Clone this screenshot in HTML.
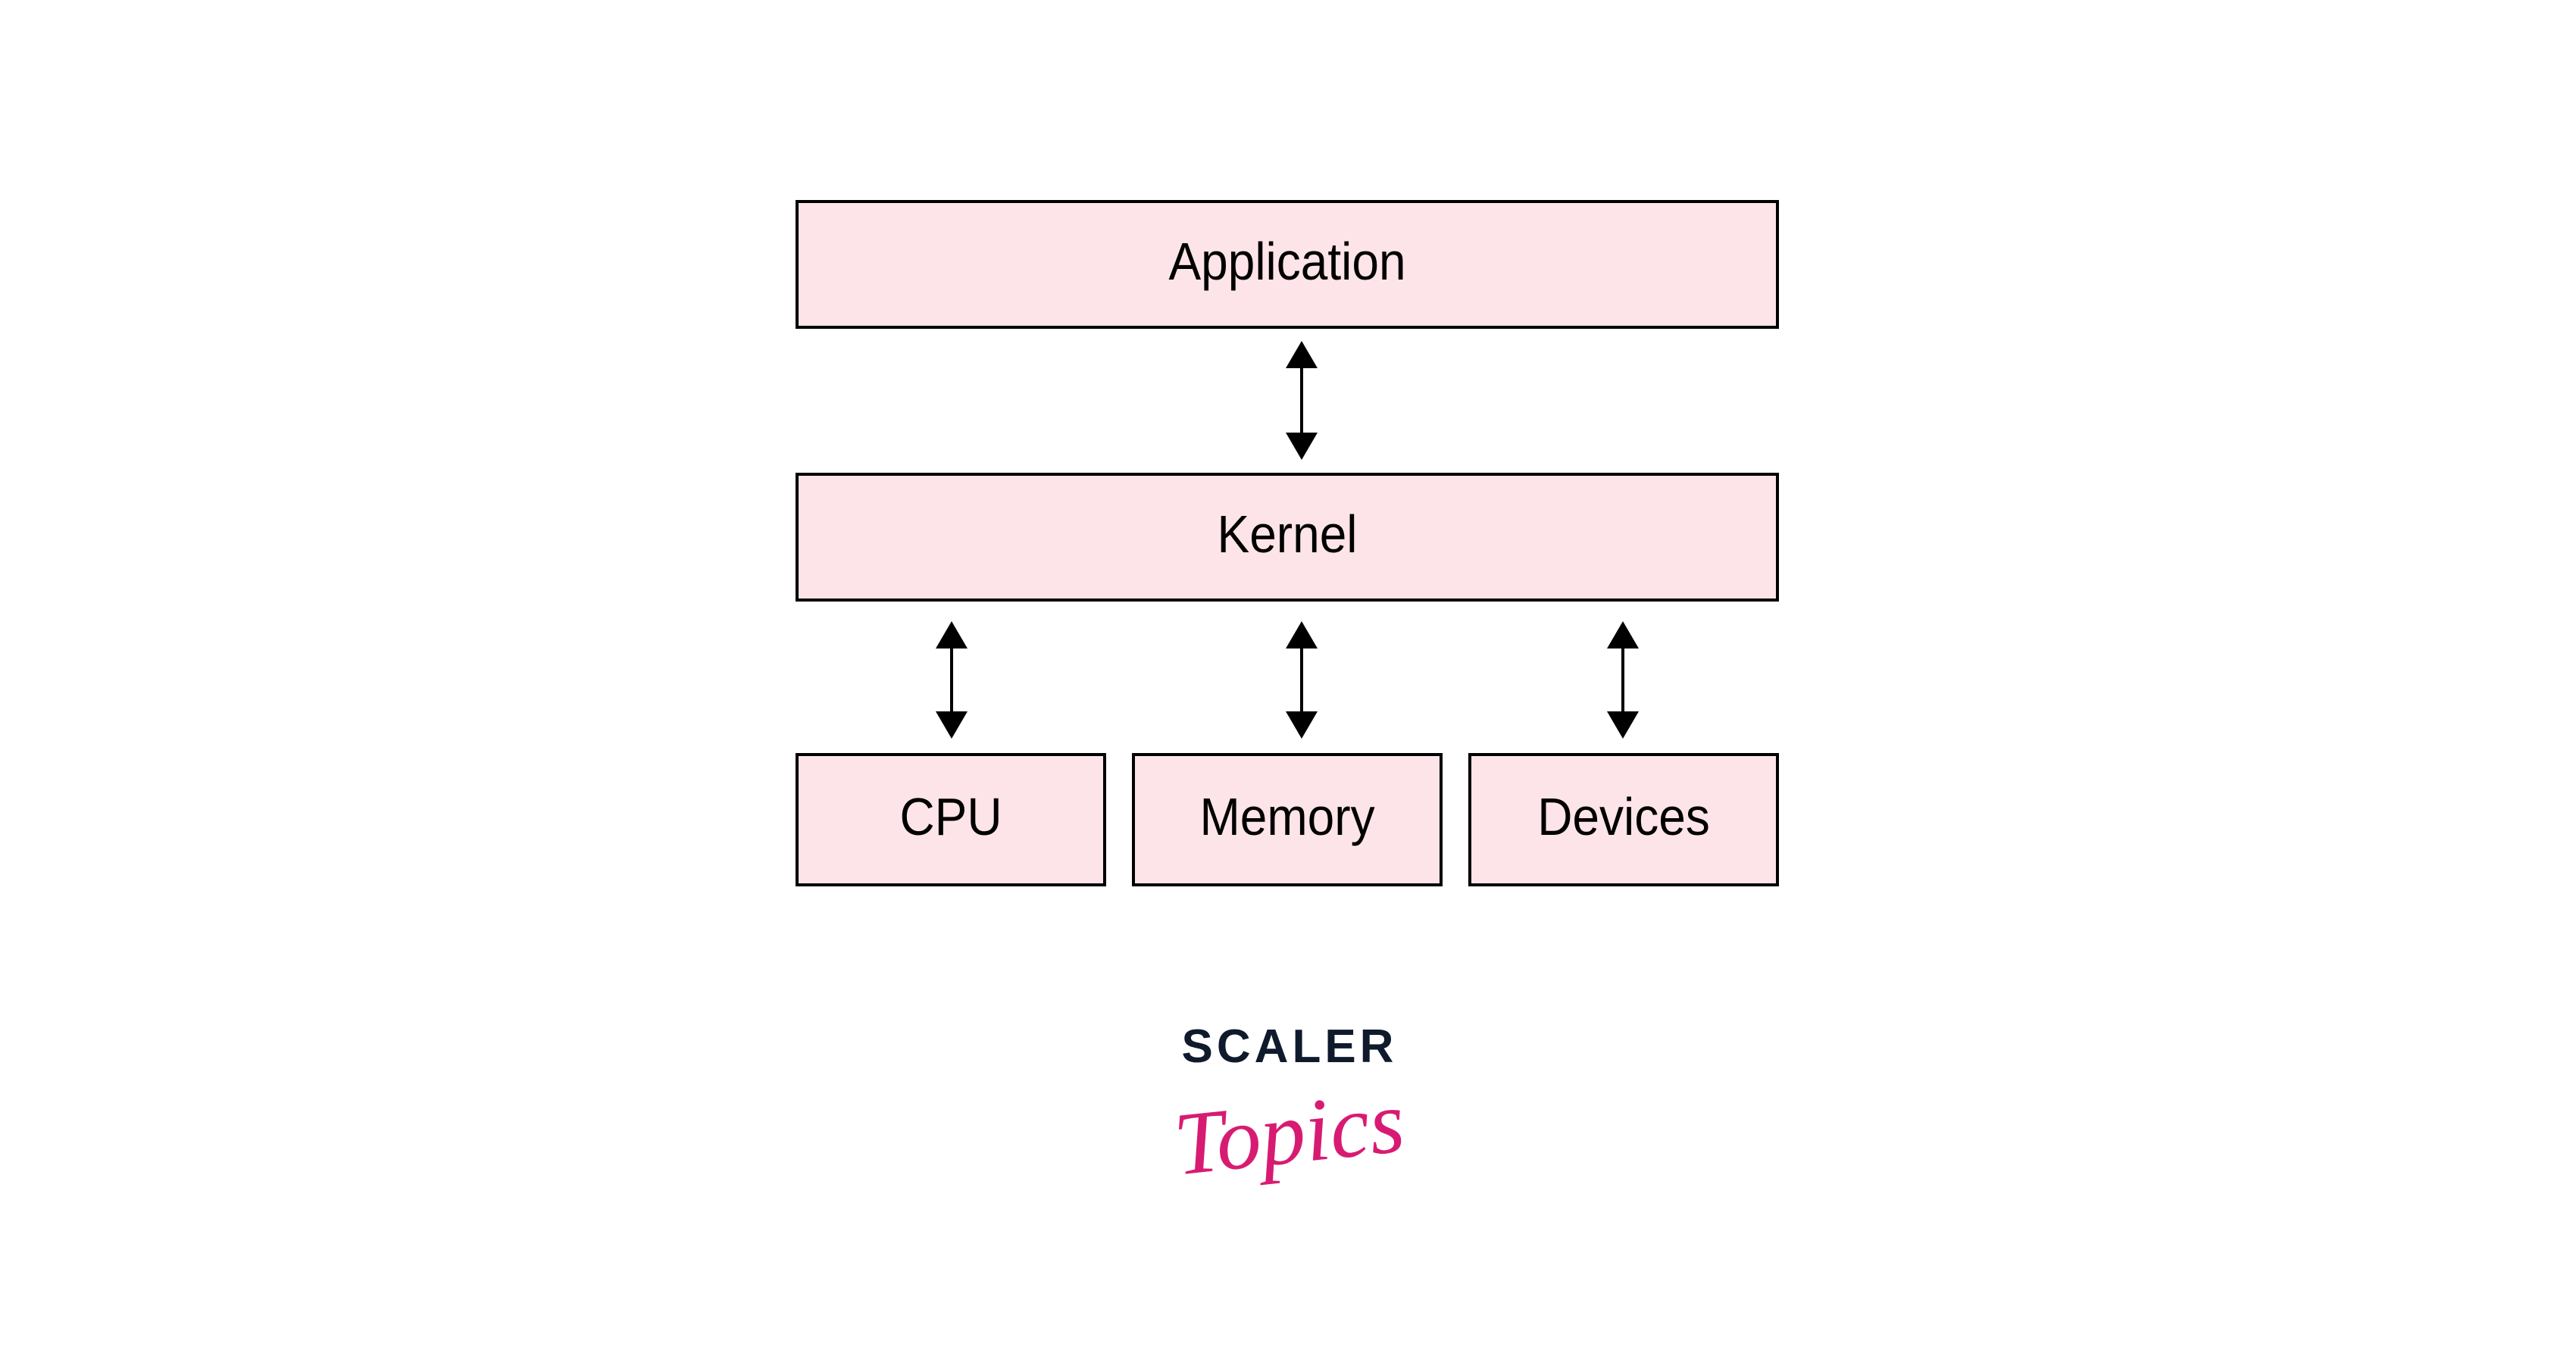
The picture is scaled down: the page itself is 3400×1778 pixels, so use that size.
<!DOCTYPE html>
<html><head><meta charset="utf-8"><style>
html,body{margin:0;padding:0;background:#fff;}
body{width:3400px;height:1778px;position:relative;overflow:hidden;font-family:"Liberation Sans",sans-serif;}
.b{position:absolute;box-sizing:border-box;border:4px solid #000;background:#fde4e8;display:flex;align-items:center;justify-content:center;font-size:64px;color:#000;}
.b span{display:inline-block;transform:translateY(-4px) scaleY(1.08);}
svg{position:absolute;left:0;top:0;}
</style></head><body>
<div class="b" style="left:1050px;top:264px;width:1298px;height:170px;"><span>Application</span></div>
<div class="b" style="left:1050px;top:624px;width:1298px;height:170px;"><span>Kernel</span></div>
<div class="b" style="left:1050px;top:994px;width:410px;height:176px;"><span>CPU</span></div>
<div class="b" style="left:1494px;top:994px;width:410px;height:176px;"><span>Memory</span></div>
<div class="b" style="left:1938px;top:994px;width:410px;height:176px;"><span>Devices</span></div>
<svg width="3400" height="1778">
<g fill="#000" stroke="#000" stroke-width="4">
<line x1="1718" y1="480" x2="1718" y2="580"/>
<polygon stroke="none" points="1718,450 1739,486 1697,486"/>
<polygon stroke="none" points="1718,607 1739,571 1697,571"/>
<line x1="1256" y1="850" x2="1256" y2="945"/>
<polygon stroke="none" points="1256,820 1277,856 1235,856"/>
<polygon stroke="none" points="1256,975 1277,939 1235,939"/>
<line x1="1718" y1="850" x2="1718" y2="945"/>
<polygon stroke="none" points="1718,820 1739,856 1697,856"/>
<polygon stroke="none" points="1718,975 1739,939 1697,939"/>
<line x1="2142" y1="850" x2="2142" y2="945"/>
<polygon stroke="none" points="2142,820 2163,856 2121,856"/>
<polygon stroke="none" points="2142,975 2163,939 2121,939"/>
</g>
<text x="1702" y="1402" text-anchor="middle" font-family="Liberation Sans" font-weight="bold" font-size="62" letter-spacing="5" fill="#0f1a2c">SCALER</text>
<text x="1702" y="1535" text-anchor="middle" font-family="Liberation Serif" font-style="italic" font-size="118" fill="#d81b72" transform="rotate(-6 1700 1500)">Topics</text>
</svg>
</body></html>
